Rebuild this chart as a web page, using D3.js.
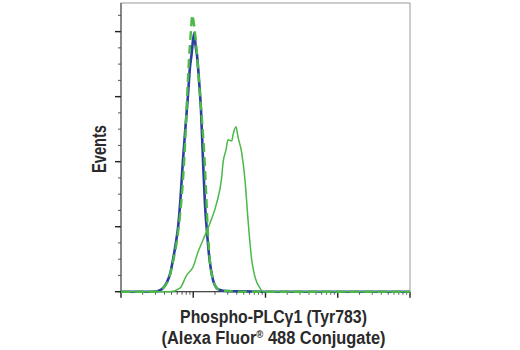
<!DOCTYPE html>
<html><head><meta charset="utf-8">
<script src="https://cdn.jsdelivr.net/npm/d3@7"></script>
<style>body{margin:0;background:#fff}svg{display:block}</style>
</head><body><svg id="c" width="520" height="350"></svg>
<script>
// Fluorescence intensity (log scale) and event counts (axis units)
const blueX = [1,2.77,3.25,3.81,4.33,4.77,5.24,5.77,6.15,6.56,7.21,7.69,8.46,9.01,9.46,9.93,10.4,10.74,11.27,12.02,12.8,13.65,14.55,15.5,16.52,17.61,18.77,20.64,23.47,28.4,52,98.4,10000];
const blueY = [0,0,0.2,1.1,3.0,5.4,9.8,15.3,19.6,26.7,40.5,48.8,60.5,69.1,72.8,77.4,79.6,75.9,72.8,65.1,55.9,40.5,26.7,18.4,11.3,6.7,3.6,1.4,0.5,0.2,0.1,0,0];
const dashX = [1,2.96,3.47,4.06,4.62,5.24,5.96,6.56,7.21,7.69,8.19,8.73,9.31,9.7,10.24,10.91,11.64,12.4,13.21,14.09,15.01,16.0,17.06,18.77,20.64,23.47,30.3,44.4,10000];
const dashY = [0,0,0.5,1.8,4.2,9.1,15.9,23.6,34.4,45.1,59.0,71.3,80.5,85.1,82.1,76.5,68.8,60.5,52.8,43.6,31.3,17.4,9.1,3.6,1.4,0.5,0.2,0,0];
const greenX = [1,4.77,6.56,8.11,9.93,11.64,13.65,17.06,21.12,24.78,25.82,28.4,30.27,34.07,35.5,39.06,41.6,46.9,52.0,57.3,64.4,71.6,84.0,92.3,10000];
const greenY = [0,0,1.1,5.1,7.6,12.2,15.9,21.1,27.3,35.3,39.6,43.6,46.7,46.4,48.2,50.7,47.6,42.7,34.4,22.1,9.8,4.5,1.1,0,0];
const yTicks = [0,20,40,60,80];
const xDecades = [1,10,100,1000,10000];
const xTitle1 = "Phospho-PLC\u03B31 (Tyr783)";
const xTitle2a = "(Alexa Fluor";
const xTitle2b = "\u00AE";
const xTitle2c = " 488 Conjugate)";
const yTitle = "Events";

const svg = d3.select("#c");
const L = 121, R = 410, T = 3, B = 291.7;
const x = d3.scaleLog().domain([1,10000]).range([L,R]);
const y = d3.scaleLinear().domain([0,88.8]).range([B,T]);

// frame
svg.append("rect").attr("x",L).attr("y",T).attr("width",R-L).attr("height",B-T)
  .attr("fill","none").attr("stroke","#9a9a9a").attr("stroke-width",1);

// y axis ticks
const yMinor = d3.range(0,88.8,5);
const gy = svg.append("g");
gy.selectAll("line.mi").data(yMinor).join("line")
  .attr("x1",L-3).attr("x2",L).attr("y1",d=>y(d)).attr("y2",d=>y(d))
  .attr("stroke","#555").attr("stroke-width",1);
gy.selectAll("line.ma").data(yTicks).join("line")
  .attr("x1",L-6).attr("x2",L).attr("y1",d=>y(d)).attr("y2",d=>y(d))
  .attr("stroke","#222").attr("stroke-width",1.4);
svg.append("line").attr("x1",L).attr("x2",L).attr("y1",T).attr("y2",B).attr("stroke","#444").attr("stroke-width",1);

// x axis ticks
const xMinor = [];
xDecades.slice(0,-1).forEach(d=>{for(let k=2;k<=9;k++) xMinor.push(d*k);});
const gx = svg.append("g");
gx.selectAll("line.mi").data(xMinor).join("line")
  .attr("x1",d=>x(d)).attr("x2",d=>x(d)).attr("y1",B).attr("y2",B+3)
  .attr("stroke","#555").attr("stroke-width",1);
gx.selectAll("line.ma").data(xDecades).join("line")
  .attr("x1",d=>x(d)).attr("x2",d=>x(d)).attr("y1",B).attr("y2",B+6)
  .attr("stroke","#222").attr("stroke-width",1.4);
svg.append("line").attr("x1",L).attr("x2",R).attr("y1",B).attr("y2",B).attr("stroke","#333").attr("stroke-width",1);

const line = d3.line().x(d=>x(d[0])).y(d=>y(d[1])).curve(d3.curveMonotoneX);
const zip = (a,b)=>a.map((v,i)=>[v,b[i]]);

svg.append("path").datum(zip(blueX,blueY)).attr("d",line)
  .attr("fill","none").attr("stroke","#2b3f9e").attr("stroke-width",2.6).attr("stroke-linejoin","round");
svg.append("path").datum(zip(dashX,dashY)).attr("d",line)
  .attr("fill","none").attr("stroke","#4bb848").attr("stroke-width",2.4).attr("stroke-dasharray","9,5");
svg.append("path").datum(zip(greenX,greenY)).attr("d",line)
  .attr("fill","none").attr("stroke","#4bb848").attr("stroke-width",1.5).attr("stroke-linejoin","round");

const font = "'Liberation Sans Narrow','Arial Narrow','Liberation Sans',Arial,sans-serif";
function fitted(transform, target, size, build){
  const g = svg.append("g");
  const t = g.append("text").attr("text-anchor","middle")
    .attr("font-family",font).attr("font-weight","bold").attr("font-size",size).attr("fill","#2a2a2a");
  build(t);
  const w = t.node().getBBox().width;
  g.attr("transform", transform + ` scale(${target/w},1)`);
  return g;
}
fitted("translate(273.5,322.5)", 187, 19, t=>t.text(xTitle1));
fitted("translate(273.5,344)", 224, 19, t=>{
  t.append("tspan").text(xTitle2a);
  t.append("tspan").attr("font-size",11).attr("dy",-6).text(xTitle2b);
  t.append("tspan").attr("dy",6).text(xTitle2c);
});
fitted("translate(106,149) rotate(-90)", 48, 20, t=>t.text(yTitle));
</script></body></html>
